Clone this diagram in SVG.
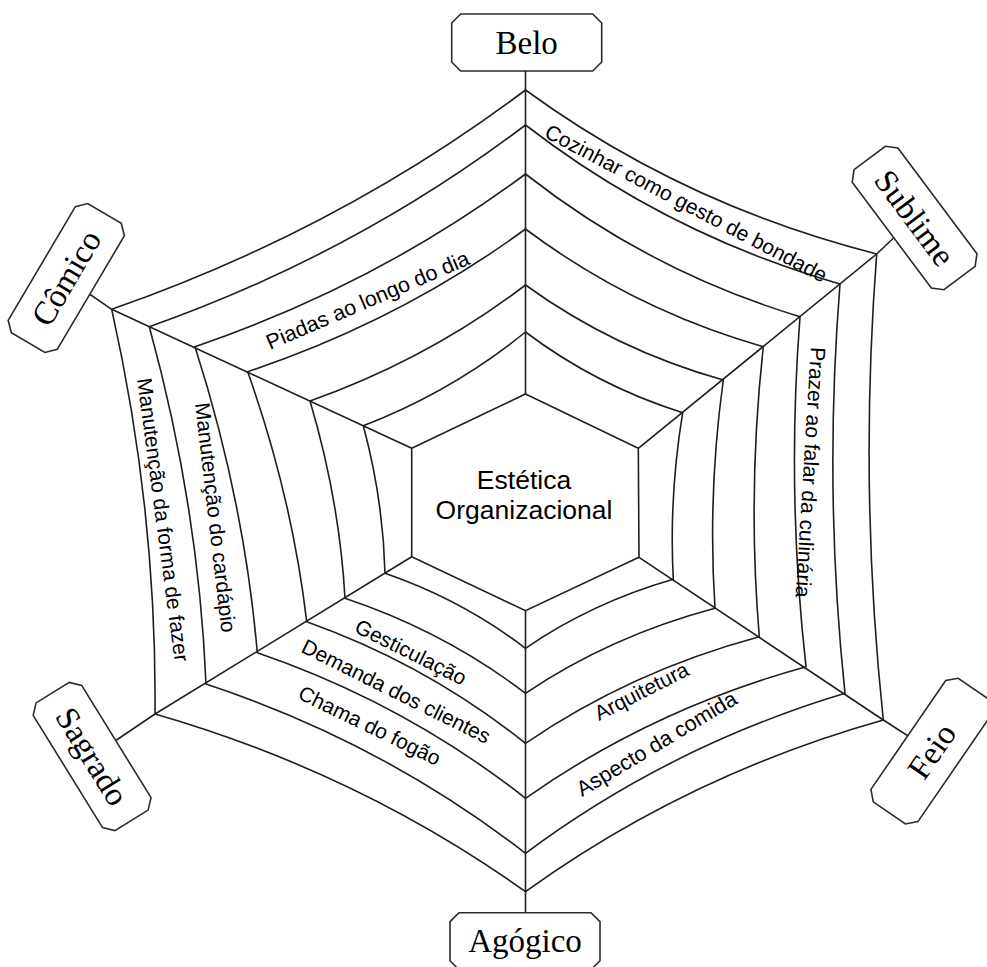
<svg xmlns="http://www.w3.org/2000/svg" xmlns:xlink="http://www.w3.org/1999/xlink" width="987" height="967" viewBox="0 0 987 967">
<style>
.web{fill:none;stroke:#1e1e1e;stroke-width:1.6;stroke-linejoin:miter}
.box{fill:#fff;stroke:#2a2a2a;stroke-width:1.6}
.cat{font-family:"Liberation Serif","Times New Roman",serif;font-size:33px;fill:#000;text-anchor:middle}
.lbl{font-family:"Liberation Sans",Arial,sans-serif;font-size:21px;fill:#000}
.ctr{font-family:"Liberation Sans",Arial,sans-serif;font-size:26.5px;fill:#000;text-anchor:middle}
</style>
<defs>
<path id="oct" d="M-66,-28.5 H66 L75,-19.5 V19.5 L66,28.5 H-66 L-75,19.5 V-19.5 Z"/>
</defs>
<rect width="987" height="967" fill="#fff"/>
<g id="connectors" class="web">
<line x1="525.5" y1="394" x2="525.5" y2="71"/>
<line x1="638.3" y1="448.3" x2="876.7" y2="254"/>
<line x1="876.7" y1="254" x2="914.6" y2="218"/>
<line x1="639" y1="557.3" x2="883.3" y2="720"/>
<line x1="883.3" y1="720" x2="931.8" y2="751.1"/>
<line x1="525.5" y1="610.7" x2="525.5" y2="912.7"/>
<line x1="411.7" y1="556.7" x2="155" y2="714"/>
<line x1="155" y1="714" x2="92.1" y2="756.5"/>
<line x1="411.7" y1="448.3" x2="111.7" y2="309.3"/>
<line x1="111.7" y1="309.3" x2="66.3" y2="278"/>
<path d="M525.5,90 Q683.5,205.1 876.7,254 Q858.7,487.9 883.3,720 Q686.5,775.5 525.5,891.7 Q358.8,772.8 155,714 Q156.9,511.1 111.7,309.3 Q339.3,229.9 525.5,90Z"/>
<path d="M525.5,125 Q667,234.3 840,284 Q823.5,489.5 845,693.3 Q669.3,746.2 525.5,853.3 Q381.7,742 206,684 Q198.5,505.2 149.3,326.7 Q356.2,253.5 525.5,125Z"/>
<path d="M525.5,174 Q649,271.1 800,316.7 Q786.4,492.3 806,666.7 Q651.7,709.5 525.5,798.3 Q404.8,703.2 257.3,652.7 Q244.1,499.9 195,346.7 Q376.8,284.6 525.5,174Z"/>
<path d="M525.5,229 Q632.5,309.3 763.3,346.7 Q747.2,492.3 759.3,636.7 Q630.7,671.3 525.5,743.3 Q427,664.5 306.7,621.7 Q292.1,497.1 247.7,371.7 Q400.5,320.6 525.5,229Z"/>
<path d="M525.5,285 Q614.5,349.5 723.3,380 Q707.5,494.6 715,608.3 Q610.8,636 525.5,693.3 Q444.3,631.5 345,598.3 Q339.4,499.8 310,401 Q428.5,359 525.5,285Z"/>
<path d="M525.5,332 Q596.2,385.4 682.7,412.7 Q668.9,496.4 673.3,579.3 Q592,602.7 525.5,648.3 Q462.3,600 385,573.3 Q383.2,499.7 363.3,425.7 Q452.5,391.2 525.5,332Z"/>
</g>
<g id="center">
<path class="web" d="M525.5,394 L638.3,448.3 L639,557.3 L525.5,610.7 L411.7,556.7 L411.7,448.3 Z"/>
<text class="ctr" x="524" y="489.3">Estética</text>
<text class="ctr" x="524" y="519.3">Organizacional</text>
</g>
<g id="belo" transform="translate(526.7,42.5)">
<use xlink:href="#oct" class="box"/>
<text class="cat" y="11">Belo</text>
</g>
<g id="sublime" transform="translate(914.6,218) rotate(53.2)">
<use xlink:href="#oct" class="box"/>
<text class="cat" y="11">Sublime</text>
</g>
<g id="feio" transform="translate(931.8,751.1) rotate(-55.5)">
<use xlink:href="#oct" class="box"/>
<text class="cat" y="11">Feio</text>
</g>
<g id="agogico" transform="translate(525,941.2)">
<use xlink:href="#oct" class="box"/>
<text class="cat" y="11">Agógico</text>
</g>
<g id="sagrado" transform="translate(92.1,756.5) rotate(58.3)">
<use xlink:href="#oct" class="box"/>
<text class="cat" y="11">Sagrado</text>
</g>
<g id="comico" transform="translate(66.3,278) rotate(-59.4)">
<use xlink:href="#oct" class="box"/>
<text class="cat" y="11">Cômico</text>
</g>
<g id="labels">
<text class="lbl" transform="translate(543.3,136.5) rotate(27.7)">Cozinhar como gesto de bondade</text>
<text class="lbl" style="font-size:21.5px" transform="translate(270,350) rotate(-23.2)">Piadas ao longo do dia</text>
<text class="lbl" transform="translate(810.9,346.7) rotate(93.5)">Prazer ao falar da culinária</text>
<text class="lbl" transform="translate(137,379) rotate(82.4)">Manutenção da forma de fazer</text>
<text class="lbl" transform="translate(195,403.5) rotate(83.4)">Manutenção do cardápio</text>
<text class="lbl" transform="translate(353.3,631.5) rotate(26.5)">Gesticulação</text>
<text class="lbl" transform="translate(300,651.5) rotate(26.5)">Demanda dos clientes</text>
<text class="lbl" transform="translate(296.7,698) rotate(26)">Chama do fogão</text>
<text class="lbl" transform="translate(599,721) rotate(-27)">Arquitetura</text>
<text class="lbl" style="font-size:21.5px" transform="translate(582,797) rotate(-31)">Aspecto da comida</text>
</g>
</svg>
